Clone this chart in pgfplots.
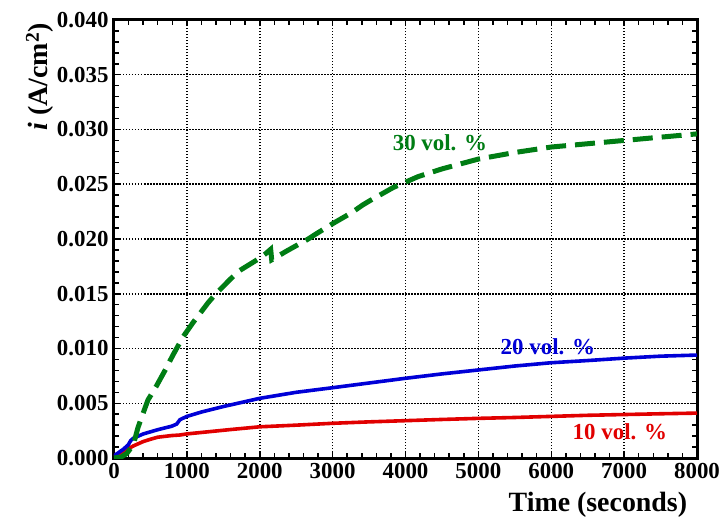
\documentclass[border=0pt]{standalone}
\usepackage{pgfplots}
\pgfplotsset{compat=1.18}
\usepackage{fontspec}
\setmainfont{Liberation Serif}
\definecolor{cgreen}{RGB}{0,125,20}
\definecolor{cblue}{RGB}{0,0,215}
\definecolor{cred}{RGB}{225,0,0}
\begin{document}
\begin{tikzpicture}
\begin{axis}[
  scale only axis, width=583bp, height=438bp,
  xmin=0, xmax=8000, ymin=0, ymax=0.04,
  xtick={0,1000,2000,3000,4000,5000,6000,7000,8000},
  xticklabels={0,1000,2000,3000,4000,5000,6000,7000,8000},
  ytick={0,0.005,0.010,0.015,0.020,0.025,0.030,0.035,0.040},
  yticklabels={0.000,0.005,0.010,0.015,0.020,0.025,0.030,0.035,0.040},
  minor x tick num=4, minor y tick num=4,
  tick align=inside,
  grid=major,
  major grid style={black, line width=1.5bp, dash pattern=on 1.5bp off 1.5bp},
  axis line style={black, line width=3bp},
  tick style={black, line width=1.5bp},
  major tick length=6bp, minor tick length=5bp,
  scaled y ticks=false, scaled x ticks=false,
  yticklabel style={xshift=-2bp},
  xticklabel style={yshift=-2bp},
  tick label style={font=\fontsize{23}{23}\selectfont\bfseries},
  xlabel={Time (seconds)},
  ylabel={\textit{i} (A/cm\textsuperscript{2})},
  label style={font=\fontsize{28}{28}\selectfont\bfseries},
  xlabel style={at={(axis description cs:0.83,0)}, anchor=center, yshift=-47bp},
  ylabel style={at={(axis description cs:-0.127,0.87)}, anchor=center},
]
\addplot[cred, line width=3.6bp] coordinates {
(0,0.0002) (130,0.0006) (265,0.0011) (400,0.0015) (494,0.0017) (600,0.0019) (791,0.00205) (905,0.0021) (1000,0.0022) (1300,0.0024) (1600,0.0026) (2000,0.00285) (2500,0.0030) (3000,0.00317) (3500,0.0033) (4000,0.00341) (4500,0.00352) (5000,0.00362) (5500,0.0037) (6000,0.0038) (6500,0.0039) (7000,0.00397) (7500,0.00404) (8000,0.0041)
};
\addplot[cblue, line width=3.6bp] coordinates {
(0,0.0002) (128,0.0008) (195,0.0012) (230,0.0016) (265,0.0018) (402,0.0022) (608,0.0026) (791,0.0029) (860,0.0031) (905,0.0035) (1000,0.0038) (1200,0.0042) (1500,0.0047) (2000,0.00545) (2500,0.0060) (3000,0.00642) (3500,0.00685) (4000,0.00728) (4500,0.00768) (5000,0.00804) (5500,0.0084) (6000,0.0087) (6500,0.0089) (7000,0.00912) (7500,0.0093) (8000,0.0094)
};
\addplot[cgreen, line width=5bp, dash pattern=on 20bp off 9bp] coordinates {
(0,0) (100,0.0001) (174,0.0004) (265,0.0012) (330,0.0028) (400,0.0041) (466,0.0053) (576,0.0065) (700,0.0080) (809,0.0094) (951,0.0111) (1088,0.0124) (1294,0.0142) (1385,0.0149) (1591,0.0163) (1720,0.0171) (1980,0.01817) (2070,0.0186) (2150,0.01906) (2164,0.0181) (2277,0.01854) (2368,0.0189) (2665,0.0200) (2757,0.0204) (3008,0.02143) (3260,0.0224) (3411,0.0231) (3511,0.0235) (3831,0.0247) (4174,0.0257) (4500,0.0264) (5000,0.0273) (5500,0.0279) (6000,0.0284) (6500,0.0287) (7000,0.0290) (7500,0.0293) (8000,0.0296)
};
\node[text=cgreen, font=\fontsize{23}{23}\selectfont\bfseries] at (axis cs:4472,0.02877) {30 vol. \%};
\node[text=cblue, font=\fontsize{23}{23}\selectfont\bfseries] at (axis cs:5953,0.01014) {20 vol. \%};
\node[text=cred, font=\fontsize{23}{23}\selectfont\bfseries] at (axis cs:6941,0.00237) {10 vol. \%};
\end{axis}
\pgfresetboundingbox
\path[use as bounding box] ([shift={(-114bp,-62bp)}]current axis.south west) rectangle ([shift={(24bp,20bp)}]current axis.north east);
\end{tikzpicture}
\end{document}
